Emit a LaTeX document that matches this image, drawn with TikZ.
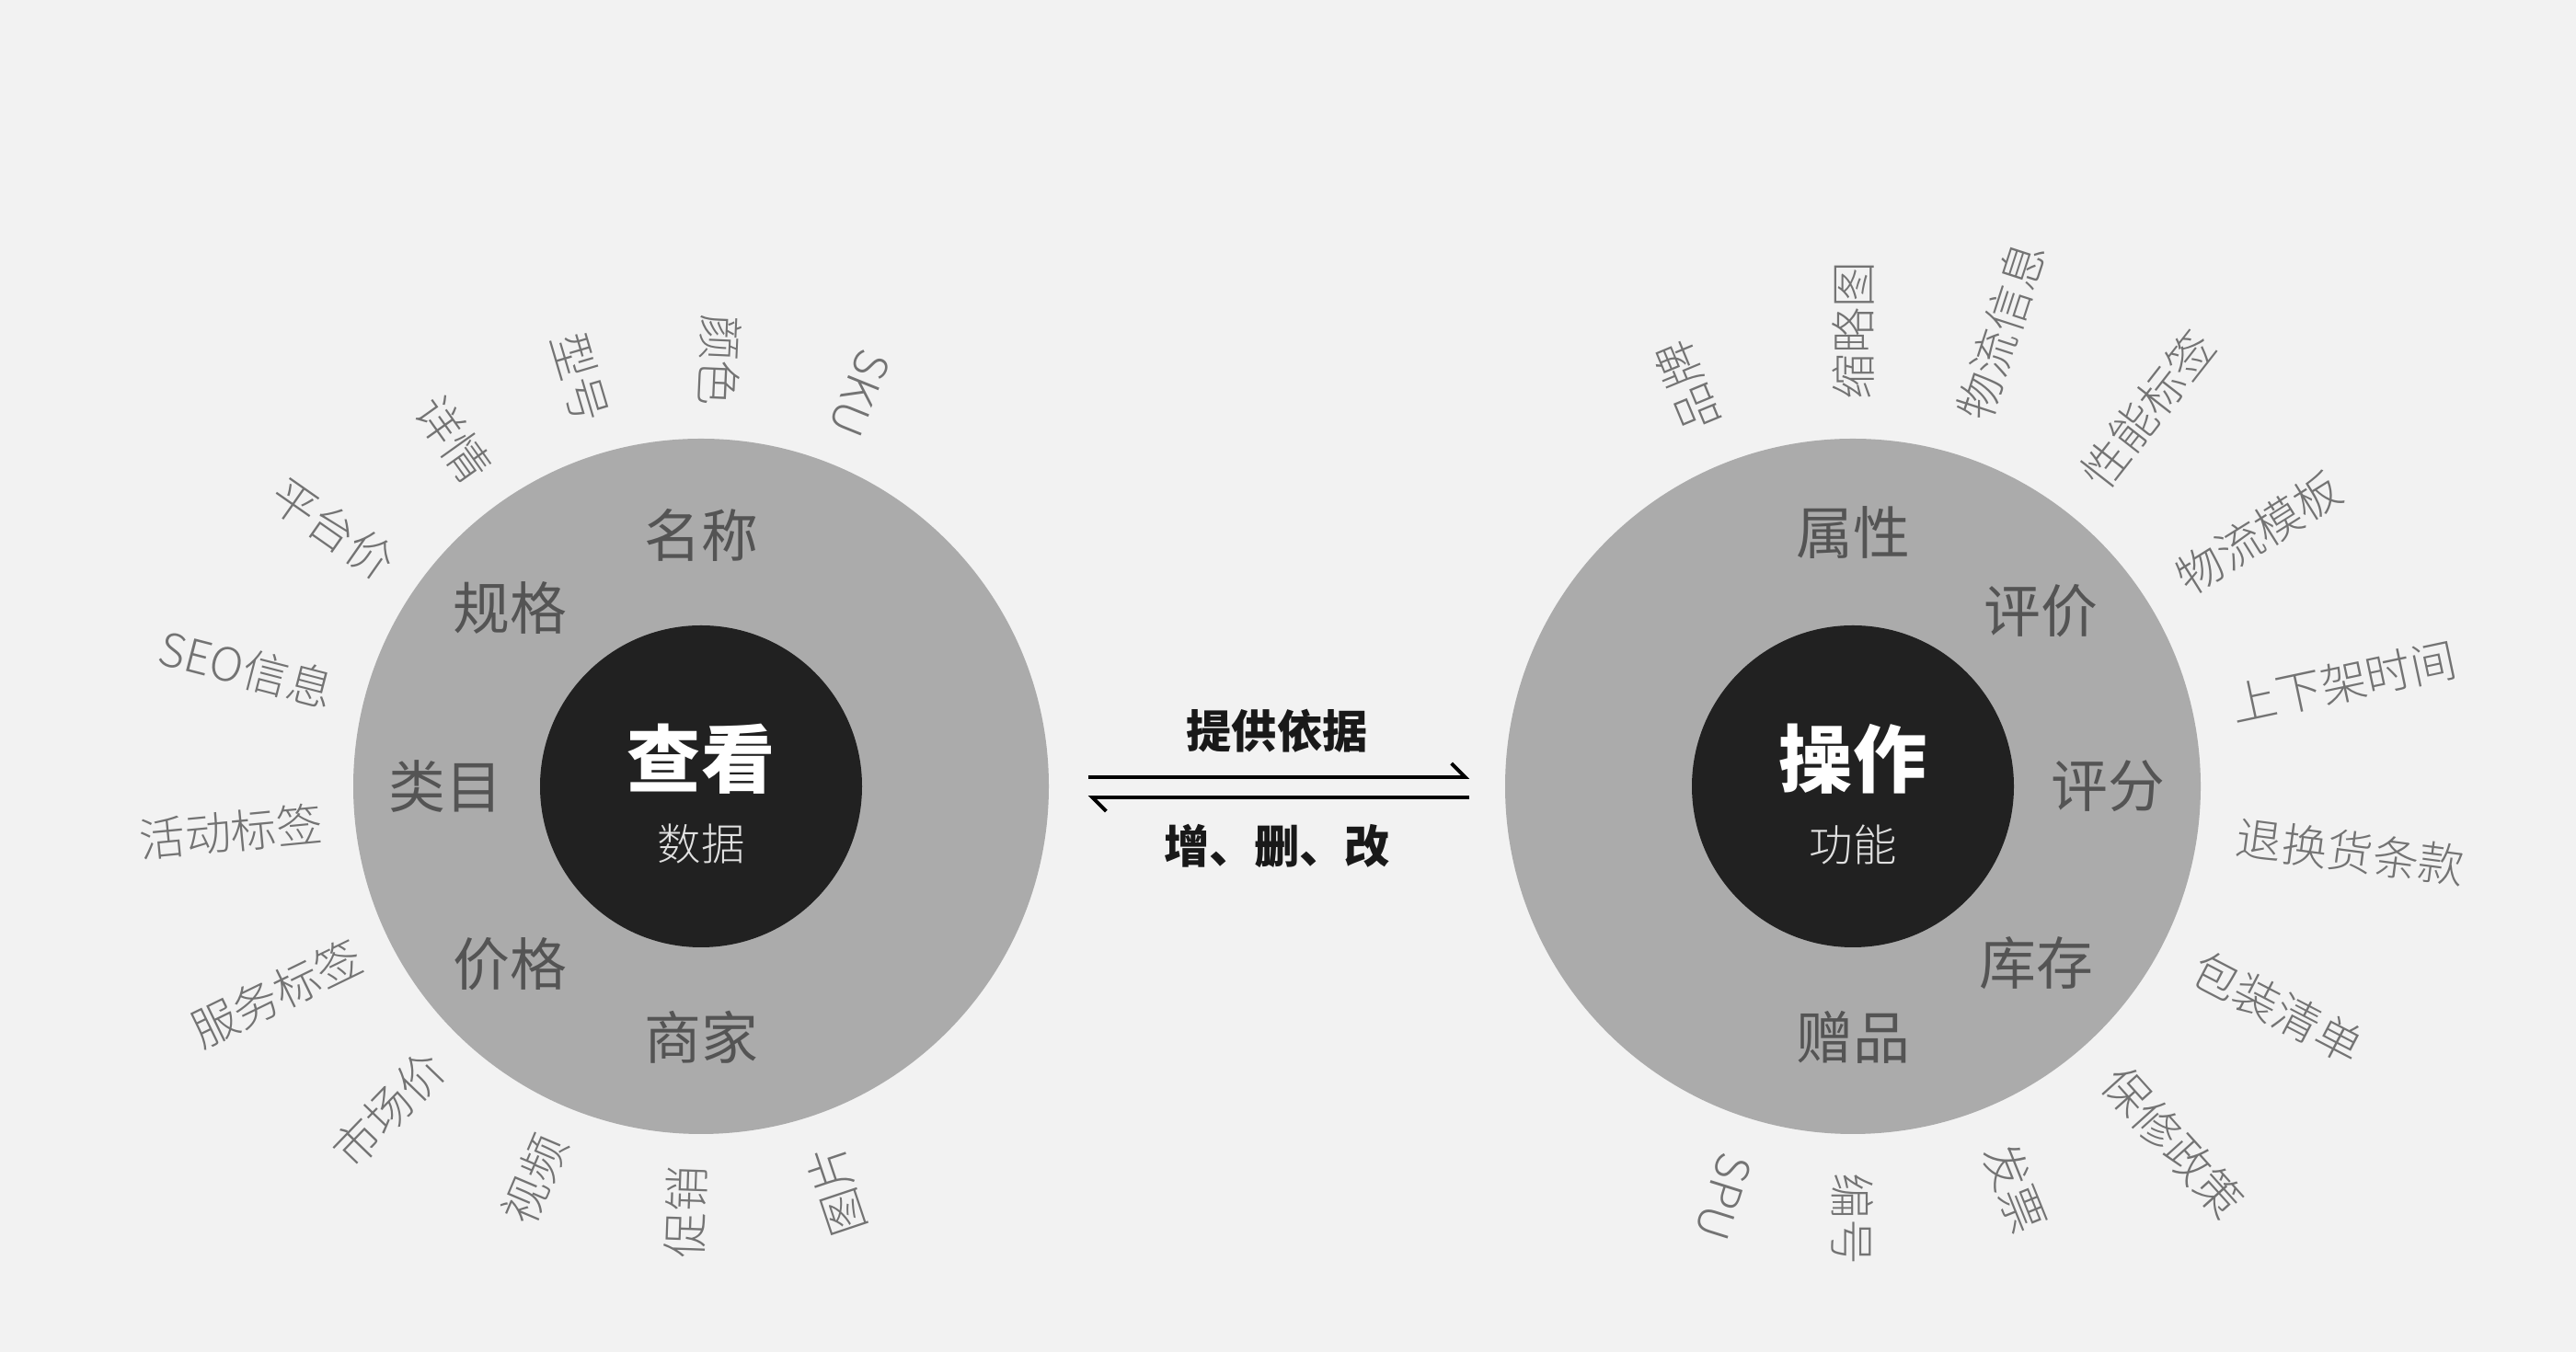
\documentclass[tikz,border=0pt]{standalone}
\usepackage{fontspec}
\setmainfont{Noto Sans CJK SC}
\newfontfamily\thincjk{Noto Sans CJK SC}[UprightFont={* Light}]
\usetikzlibrary{arrows.meta,calc,positioning}
\definecolor{bggray}{HTML}{F2F2F2}
\definecolor{ringgray}{HTML}{ABABAB}
\definecolor{coregray}{HTML}{212121}
\definecolor{ringtext}{HTML}{545454}
\definecolor{leaftext}{HTML}{737373}
\tikzset{
  outring/.style={circle, fill=ringgray, minimum size=7.56cm, inner sep=0pt},
  core/.style={circle, fill=coregray, minimum size=3.5cm, inner sep=0pt},
  maintxt/.style={text=white, font=\fontsize{22.8}{26}\selectfont\bfseries, inner sep=0pt},
  subtxt/.style={text=white!88!black, font=\fontsize{13.5}{16}\selectfont\thincjk, inner sep=0pt},
  ringlbl/.style={text=ringtext, font=\fontsize{17.6}{20}\selectfont, inner sep=0pt},
  leaflbl/.style={text=leaftext, font=\fontsize{14.2}{17}\selectfont\thincjk, inner sep=0pt},
  flowlbl/.style={text=black!90, font=\fontsize{14}{17}\selectfont\bfseries, inner sep=0pt},
  flow/.style={line width=1.1pt, -{Straight Barb[harpoon, length=1.5mm, width=3mm]}},
}
\begin{document}
\begin{tikzpicture}
    \useasboundingbox (0,0) rectangle (28,14.7);
    \fill[bggray] (0,0) rectangle (28,14.7);
    \def\cy{6.15}
    % left: data
    \node[outring] (lout) at (7.62,\cy) {};
    \node[core] (lin) at (lout.center) {};
    \node[maintxt] (lview) at ([yshift=0.3cm]lin.center) {查看};
    \node[subtxt] (ldata) at ([yshift=-0.63cm]lin.center) {数据};
    \foreach \ang/\rad/\txt in {90/2.73/名称, 137/2.84/规格, 180/2.78/类目, 223/2.84/价格, 270/2.73/商家}
        \node[ringlbl] at ([shift={(\ang:\rad)}]lout.center) {\txt};
    \foreach \ang/\txt [count=\i] in {68/SKU, 87.5/颜色, 106.5/型号, 125.5/详情, 145/平台价, 165.5/SEO信息,
                                      185.5/活动标签, 206/服务标签, 226/市场价, 247/视频, 268/促销, 288.5/图片}
        \node[leaflbl, anchor=east, rotate=\ang+180] (lleaf\i) at ([shift={(\ang:4.13)}]lout.center) {\txt};
    % right: functions
    \node[outring] (rout) at (20.14,\cy) {};
    \node[core] (rin) at (rout.center) {};
    \node[maintxt] (rop) at ([yshift=0.3cm]rin.center) {操作};
    \node[subtxt] (rfunc) at ([yshift=-0.63cm]rin.center) {功能};
    \foreach \ang/\rad/\txt in {90/2.76/属性, 43/2.8/评价, 0/2.77/评分, -44/2.77/库存, -90/2.73/赠品}
        \node[ringlbl] at ([shift={(\ang:\rad)}]rout.center) {\txt};
    \foreach \ang/\txt [count=\i] in {112.5/品牌, 90/缩略图, 72/物流信息, 52/性能标签, 32/物流模板, 12/上下架时间,
                                      -7.5/退换货条款, -27.5/包装清单, -48/保修政策, -68/发票, -90/编号, -107.5/SPU}
        \node[leaflbl, anchor=west, rotate=\ang] (rleaf\i) at ([shift={(\ang:4.2)}]rout.center) {\txt};
    % exchange between both
    \draw[flow, shorten <=0.42cm, shorten >=0.38cm] ([yshift=0.1cm]lout.east) -- ([yshift=0.1cm]rout.west);
    \draw[flow, shorten <=0.38cm, shorten >=0.42cm] ([yshift=-0.12cm]rout.west) -- ([yshift=-0.12cm]lout.east);
    \node[flowlbl] (give) at ($(lout.east)!0.5!(rout.west)+(0,0.6)$) {提供依据};
    \node[flowlbl] (edit) at ($(lout.east)!0.5!(rout.west)+(0,-0.65)$) {增、删、改};
\end{tikzpicture}
\end{document}
